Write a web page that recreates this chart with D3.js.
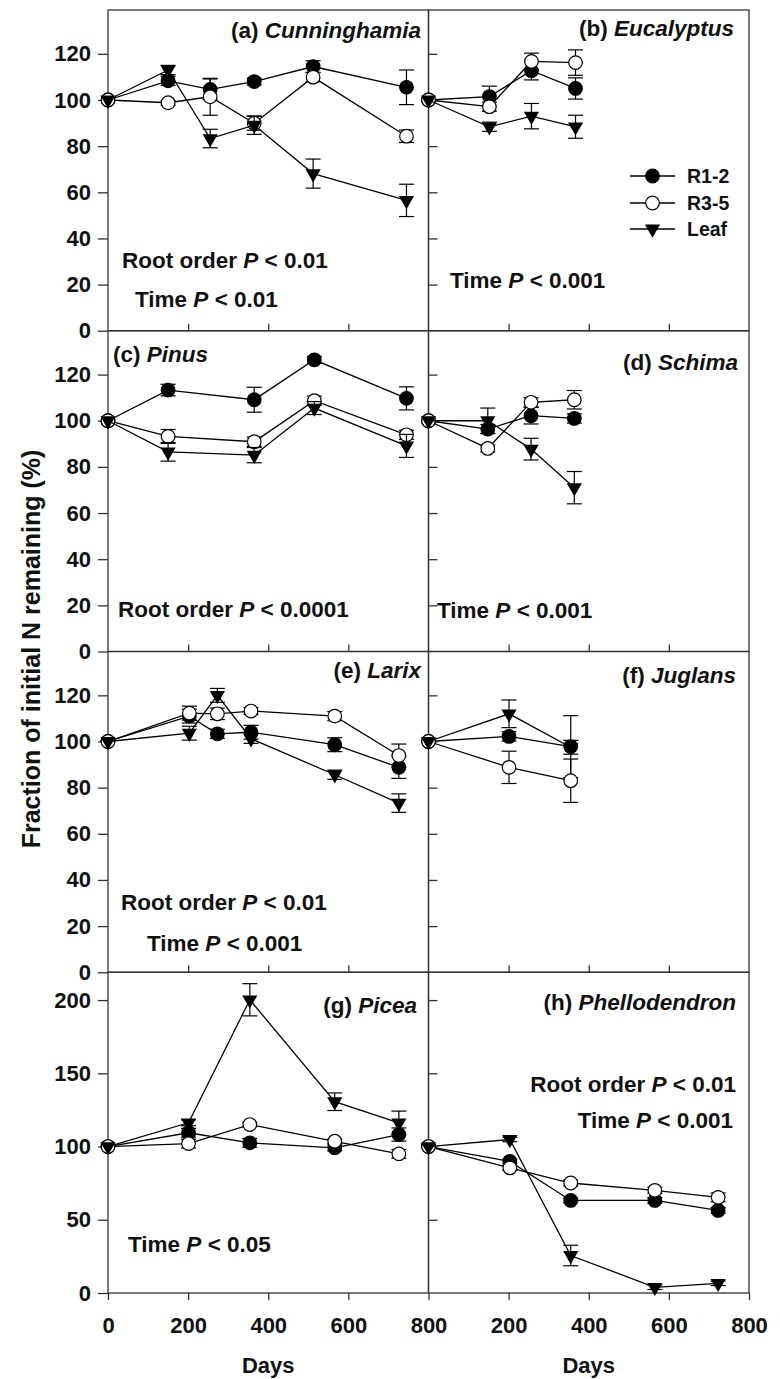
<!DOCTYPE html>
<html>
<head>
<meta charset="utf-8">
<script src="https://cdn.jsdelivr.net/npm/d3@7"></script>
<style>
  body { margin: 0; background: #fff; }
  text { font-family: "Liberation Sans", Arial, sans-serif; font-weight: bold; fill: #111; }
</style>
</head>
<body>
<div id="root"></div>
<script>
// ---- Data (days, % of initial N, +/- error) ----
// (a) Cunninghamia
const daysA = [0, 150, 255, 365, 512, 745];
const r12A = [100, 108.3, 104.6, 108, 114.5, 105.5];
const r12ErrA = [0, 2, 4.5, 1.5, 2.5, 7.5];
const r35A = [100, 98.8, 101.4, 89.9, 109.9, 84.3];
const r35ErrA = [0, 1, 8, 3, 2, 2.7];
const leafA = [100, 113, 83.3, 89.1, 68.1, 56.5];
const leafErrA = [0, 2, 4, 4, 6.3, 7];

// (b) Eucalyptus
const daysB = [0, 152, 257, 367];
const r12B = [100, 101.5, 112.7, 105];
const r12ErrB = [0, 4.5, 4, 4.6];
const r35B = [100, 97.1, 116.7, 116.2];
const r35ErrB = [0, 2, 3.6, 5.5];
const leafB = [100, 88.4, 93, 88.4];
const leafErrB = [0, 2, 5.5, 5];

// (c) Pinus
const daysC = [0, 150, 365, 515, 745];
const r12C = [100, 113.3, 109.1, 126.4, 109.7];
const r12ErrC = [0, 2.5, 5.4, 1.5, 5];
const r35C = [100, 93.2, 90.9, 108.7, 93.9];
const r35ErrC = [0, 3, 2, 2, 2];
const leafC = [100, 86.5, 85.1, 105.5, 89.1];
const leafErrC = [0, 4, 3.3, 2.8, 5];

// (d) Schima
const daysD = [0, 148, 256, 364];
const r12D = [100, 96.4, 102.2, 101];
const r12ErrD = [0, 2, 3.6, 2];
const r35D = [100, 88, 108, 109.1];
const r35ErrD = [0, 1.5, 2, 4];
const leafD = [100, 100, 87.7, 71];
const leafErrD = [0, 5.5, 4.7, 7];

// (e) Larix
const daysE = [0, 203, 273, 357, 566, 726];
const r12E = [100, 111, 103.3, 104, 98.6, 88.8];
const r12ErrE = [0, 3, 2, 3, 3, 4.8];
const r35E = [100, 112.3, 112, 113.2, 111, 93.9];
const r35ErrE = [0, 3, 2.5, 1.5, 2, 5];
const leafE = [100, 103.6, 120, 101.2, 85.6, 73.3];
const leafErrE = [0, 3, 3, 2, 2, 4];

// (f) Juglans
const daysF = [0, 201, 355];
const r12F = [100, 102.2, 97.8];
const r12ErrF = [0, 2, 13.4];
const r35F = [100, 88.8, 83];
const r35ErrF = [0, 7, 9.4];
const leafF = [100, 112, 97.5];
const leafErrF = [0, 6, 3];

// (g) Picea
const daysG = [0, 201, 354, 566, 726];
const r12G = [100, 109.4, 102.5, 99.1, 108.2];
const r12ErrG = [0, 3, 3, 2, 4.5];
const r35G = [100, 102, 115, 103.6, 95];
const r35ErrG = [0, 3, 1.5, 1.5, 3];
const leafG = [100, 116.2, 200.2, 130.6, 116.2];
const leafErrG = [0, 2, 11, 6, 8];

// (h) Phellodendron
const daysH = [0, 203, 355, 565, 723];
const r12H = [100, 89.9, 63.2, 63.2, 56.4];
const r12ErrH = [0, 1.5, 1.5, 2, 2];
const r35H = [100, 85.4, 75.1, 70.1, 65.3];
const r35ErrH = [0, 1.5, 2, 2, 3];
const leafH = [100, 104.8, 25.6, 3.9, 6.6];
const leafErrH = [0, 1.5, 7, 1.5, 1.5];

const seriesNames = ["R1-2", "R3-5", "Leaf"];
const yTicksSmall = [0, 20, 40, 60, 80, 100, 120];
const yTicksBig = [0, 50, 100, 150, 200];
const xTicksInner = [200, 400, 600];
const xTicksLeft = [0, 200, 400, 600, 800];
const xTicksRight = [200, 400, 600, 800];

// ---- Layout ----
const width = 780;
const height = 1379;
const colLeft = [108, 428.5];
const panelW = 320.5;
const rowTop = [10, 330.75, 651.5, 972.25];
const panelH = 320.75;
const fontFamily = '"Liberation Sans", Arial, sans-serif';

const panels = [
  { tag: "(a)", name: "Cunninghamia", row: 0, col: 0, days: daysA,
    vals: [r12A, r35A, leafA], errs: [r12ErrA, r35ErrA, leafErrA],
    label: { x: 421, y: 38, anchor: "end" },
    stats: [["Root order", "0.01", 122, 268, "start"], ["Time", "0.01", 135, 307, "start"]] },
  { tag: "(b)", name: "Eucalyptus", row: 0, col: 1, days: daysB,
    vals: [r12B, r35B, leafB], errs: [r12ErrB, r35ErrB, leafErrB],
    label: { x: 734, y: 36, anchor: "end" },
    stats: [["Time", "0.001", 450, 288, "start"]], legend: true },
  { tag: "(c)", name: "Pinus", row: 1, col: 0, days: daysC,
    vals: [r12C, r35C, leafC], errs: [r12ErrC, r35ErrC, leafErrC],
    label: { x: 113, y: 362, anchor: "start" },
    stats: [["Root order", "0.0001", 118, 617, "start"]] },
  { tag: "(d)", name: "Schima", row: 1, col: 1, days: daysD,
    vals: [r12D, r35D, leafD], errs: [r12ErrD, r35ErrD, leafErrD],
    label: { x: 738, y: 370, anchor: "end" },
    stats: [["Time", "0.001", 437, 618, "start"]] },
  { tag: "(e)", name: "Larix", row: 2, col: 0, days: daysE,
    vals: [r12E, r35E, leafE], errs: [r12ErrE, r35ErrE, leafErrE],
    label: { x: 421, y: 678, anchor: "end" },
    stats: [["Root order", "0.01", 121, 910, "start"], ["Time", "0.001", 147, 951, "start"]] },
  { tag: "(f)", name: "Juglans", row: 2, col: 1, days: daysF,
    vals: [r12F, r35F, leafF], errs: [r12ErrF, r35ErrF, leafErrF],
    label: { x: 736, y: 683, anchor: "end" },
    stats: [] },
  { tag: "(g)", name: "Picea", row: 3, col: 0, days: daysG,
    vals: [r12G, r35G, leafG], errs: [r12ErrG, r35ErrG, leafErrG],
    label: { x: 417, y: 1013, anchor: "end" },
    stats: [["Time", "0.05", 128, 1252, "start"]] },
  { tag: "(h)", name: "Phellodendron", row: 3, col: 1, days: daysH,
    vals: [r12H, r35H, leafH], errs: [r12ErrH, r35ErrH, leafErrH],
    label: { x: 736, y: 1010, anchor: "end" },
    stats: [["Root order", "0.01", 736, 1092, "end"], ["Time", "0.001", 733, 1128, "end"]] },
];

const svg = d3
  .select("#root")
  .append("svg")
  .attr("width", width)
  .attr("height", height);

// Marker drawing
const triangle = d3.symbol().type(d3.symbolTriangle).size(100);

function drawMarker(g, kind, x, y) {
  if (kind === 2) {
    g.append("path")
      .attr("d", triangle())
      .attr("transform", `translate(${x},${y}) rotate(180)`)
      .attr("fill", "#000");
  } else {
    g.append("circle")
      .attr("cx", x)
      .attr("cy", y)
      .attr("r", 6.8)
      .attr("fill", kind === 0 ? "#000" : "#fff")
      .attr("stroke", "#000")
      .attr("stroke-width", 1.2);
  }
}

function styleAxisText(sel) {
  sel.selectAll("text")
    .attr("font-size", 22)
    .attr("fill", "#111")
    .attr("font-family", fontFamily)
    .attr("font-weight", "bold");
}

function drawPanel(p) {
  const x0 = colLeft[p.col];
  const y0 = rowTop[p.row];
  const big = p.row === 3;

  const x = d3.scaleLinear().domain([0, 800]).range([x0, x0 + panelW]);
  const y = d3
    .scaleLinear()
    .domain([0, big ? 219 : 139])
    .range([y0 + panelH, y0]);

  const g = svg.append("g");

  // Frame
  g.append("rect")
    .attr("x", x0)
    .attr("y", y0)
    .attr("width", panelW)
    .attr("height", panelH)
    .attr("fill", "none")
    .attr("stroke", "#333")
    .attr("stroke-width", 1.3);

  // Y axis
  const yTicks = big ? yTicksBig : yTicksSmall;
  let yAxis;
  if (p.col === 0) {
    yAxis = d3.axisLeft(y).tickValues(yTicks).tickSize(10).tickPadding(7).tickSizeOuter(0);
  } else {
    yAxis = d3.axisRight(y).tickValues(yTicks.filter((t) => t > 0)).tickSize(9).tickFormat("").tickSizeOuter(0);
  }
  const yG = g.append("g").attr("transform", `translate(${x0},0)`).call(yAxis);
  yG.select(".domain").remove();
  yG.selectAll("line").attr("stroke", "#333").attr("stroke-width", 1.3);
  styleAxisText(yG);

  // X axis
  let xAxis;
  if (!big) {
    xAxis = d3.axisTop(x).tickValues(xTicksInner).tickSize(7).tickFormat("");
  } else {
    xAxis = d3.axisBottom(x)
      .tickValues(p.col === 0 ? xTicksLeft : xTicksRight)
      .tickSize(7)
      .tickPadding(17)
      .tickSizeOuter(0);
  }
  const xG = g.append("g").attr("transform", `translate(0,${y0 + panelH})`).call(xAxis);
  xG.select(".domain").remove();
  xG.selectAll("line").attr("stroke", "#333").attr("stroke-width", 1.3);
  styleAxisText(xG);

  if (big) {
    g.append("text")
      .attr("x", x0 + panelW / 2)
      .attr("y", 1373)
      .attr("text-anchor", "middle")
      .attr("font-size", 22)
      .text("Days");
  }

  // Series
  const line = d3
    .line()
    .x((d) => x(d.day))
    .y((d) => y(d.v));

  p.vals.forEach((vals, s) => {
    const pts = p.days.map((day, i) => ({ day, v: vals[i], e: p.errs[s][i] }));
    const sg = g.append("g");

    sg.append("path")
      .attr("d", line(pts))
      .attr("fill", "none")
      .attr("stroke", "#000")
      .attr("stroke-width", 1.3);

    // Error bars
    pts.filter((d) => d.e > 0).forEach((d) => {
      const cx = x(d.day);
      sg.append("line")
        .attr("x1", cx).attr("x2", cx)
        .attr("y1", y(d.v - d.e)).attr("y2", y(d.v + d.e))
        .attr("stroke", "#000").attr("stroke-width", 1.2);
      [d.v - d.e, d.v + d.e].forEach((v) => {
        sg.append("line")
          .attr("x1", cx - 7.5).attr("x2", cx + 7.5)
          .attr("y1", y(v)).attr("y2", y(v))
          .attr("stroke", "#000").attr("stroke-width", 1.2);
      });
    });

    pts.forEach((d) => drawMarker(sg, s, x(d.day), y(d.v)));
  });

  // Panel label
  const lab = g.append("text")
    .attr("x", p.label.x)
    .attr("y", p.label.y)
    .attr("text-anchor", p.label.anchor)
    .attr("font-size", 22.5);
  lab.append("tspan").text(p.tag + " ");
  lab.append("tspan").attr("font-style", "italic").text(p.name);

  // Statistics text
  p.stats.forEach(([factor, pv, sx, sy, anchor]) => {
    const t = g.append("text")
      .attr("x", sx)
      .attr("y", sy)
      .attr("text-anchor", anchor)
      .attr("font-size", 22.5);
    t.append("tspan").text(factor + " ");
    t.append("tspan").attr("font-style", "italic").text("P");
    t.append("tspan").text(" < " + pv);
  });

  // Legend
  if (p.legend) {
    const legendY = [176, 203, 229];
    seriesNames.forEach((nm, s) => {
      const lg = g.append("g");
      lg.append("line")
        .attr("x1", 630).attr("x2", 675)
        .attr("y1", legendY[s]).attr("y2", legendY[s])
        .attr("stroke", "#000").attr("stroke-width", 1.3);
      drawMarker(lg, s, 652.5, legendY[s]);
      lg.append("text")
        .attr("x", 687)
        .attr("y", legendY[s])
        .attr("dy", "0.36em")
        .attr("font-size", 19.5)
        .text(nm);
    });
  }
}

panels.forEach(drawPanel);

// Shared y-axis title
svg.append("text")
  .attr("transform", "translate(40,649) rotate(-90)")
  .attr("text-anchor", "middle")
  .attr("font-size", 25)
  .text("Fraction of initial N remaining (%)");
</script>
</body>
</html>
